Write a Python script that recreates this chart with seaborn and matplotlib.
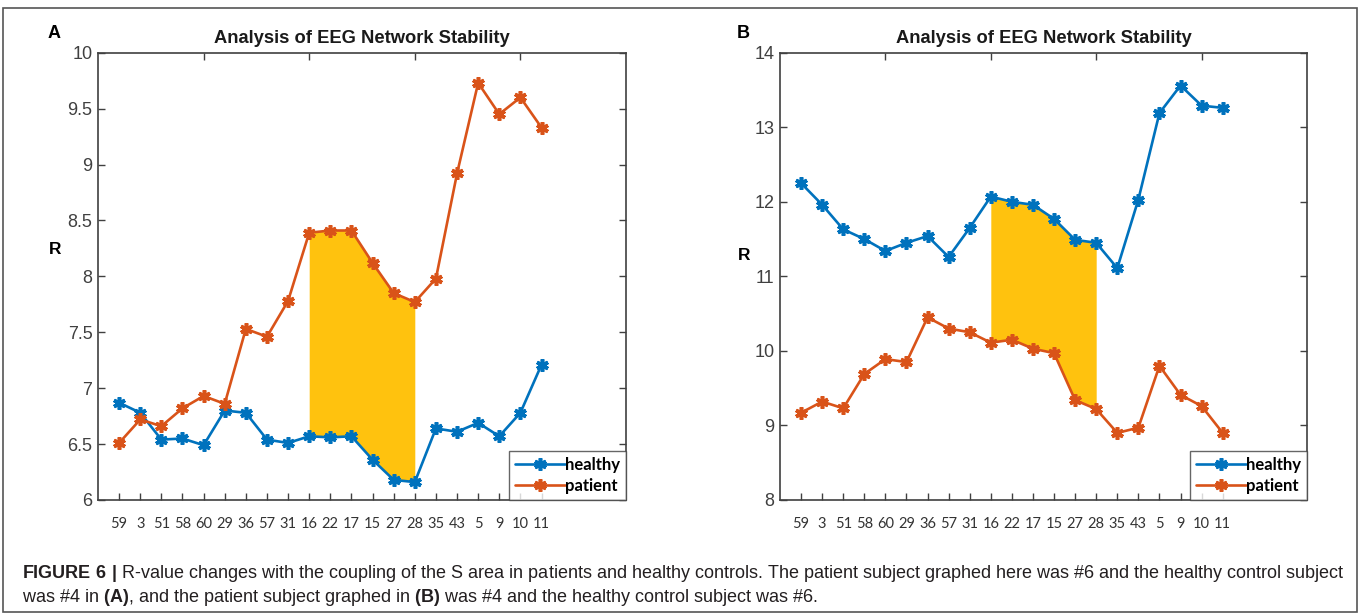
import numpy as np
import pandas as pd
import matplotlib
matplotlib.use("Agg")
import matplotlib.pyplot as plt
from matplotlib.patches import Rectangle
import seaborn as sns

# ---- data -------------------------------------------------------------
subjects = ['59', '3', '51', '58', '60', '29', '36', '57', '31', '16', '22',
            '17', '15', '27', '28', '35', '43', '5', '9', '10', '11']

healthy_a = [6.87, 6.78, 6.54, 6.55, 6.49, 6.80, 6.78, 6.54, 6.51, 6.57, 6.56,
             6.57, 6.36, 6.18, 6.16, 6.64, 6.61, 6.69, 6.57, 6.78, 7.21]
patient_a = [6.51, 6.72, 6.66, 6.82, 6.93, 6.86, 7.53, 7.46, 7.78, 8.39, 8.41,
             8.41, 8.12, 7.85, 7.77, 7.98, 8.92, 9.73, 9.45, 9.60, 9.33]

healthy_b = [12.25, 11.96, 11.63, 11.50, 11.34, 11.45, 11.54, 11.26, 11.65, 12.07, 12.00,
             11.96, 11.77, 11.49, 11.45, 11.11, 12.03, 13.19, 13.56, 13.29, 13.26]
patient_b = [9.17, 9.32, 9.23, 9.69, 9.89, 9.85, 10.45, 10.30, 10.25, 10.11, 10.15,
             10.03, 9.97, 9.34, 9.22, 8.90, 8.97, 9.80, 9.41, 9.26, 8.90]

# shaded window: subjects 16 .. 28
shade_start, shade_end = 9, 14

title = "Analysis of EEG Network Stability"
caption_1 = (r"$\mathbf{FIGURE\ 6\ |}$ R-value changes with the coupling of the S area in "
             "patients and healthy controls. The patient subject graphed here was #6 and "
             "the healthy control subject")
caption_2 = (r"was #4 in $\mathbf{(A)}$, and the patient subject graphed in $\mathbf{(B)}$ "
             "was #4 and the healthy control subject was #6.")

# ---- style ------------------------------------------------------------
sns.set_theme(style="white")
plt.rcParams["font.family"] = ["Liberation Sans", "DejaVu Sans"]
plt.rcParams["mathtext.fontset"] = "custom"
plt.rcParams["mathtext.rm"] = "Liberation Sans"
plt.rcParams["mathtext.bf"] = "Liberation Sans:bold"

BLUE = "#0072BD"
ORANGE = "#D95319"
YELLOW = "#FFC20E"
AXCOL = "#404040"

W, H = 1362, 616
fig = plt.figure(figsize=(W / 100, H / 100), dpi=100)
fig.patch.set_facecolor("white")

x = np.arange(1, len(subjects) + 1)


def px_box(left, top, right, bottom):
    return [left / W, 1 - bottom / H, (right - left) / W, (bottom - top) / H]


def panel(rect, healthy, patient, ylim, ystep, letter, letter_x, r_y):
    ax = fig.add_axes(rect)
    df = pd.DataFrame({"subject": np.concatenate([x, x]),
                       "R": np.concatenate([healthy, patient]),
                       "group": ["healthy"] * len(x) + ["patient"] * len(x)})

    sl = slice(shade_start, shade_end + 1)
    ax.fill_between(x[sl], np.array(healthy)[sl], np.array(patient)[sl],
                    color=YELLOW, linewidth=0, zorder=1)

    for grp, col in (("healthy", BLUE), ("patient", ORANGE)):
        sns.lineplot(data=df[df.group == grp], x="subject", y="R", ax=ax,
                     color=col, linewidth=1.9, marker=(6, 2, 0), markersize=9,
                     markeredgewidth=2.6, markeredgecolor=col, sort=False,
                     errorbar=None, label=grp, zorder=3)

    ax.set_xlim(0, 25)
    ax.set_ylim(*ylim)
    yt = np.arange(ylim[0], ylim[1] + 1e-9, ystep)
    ax.set_yticks(yt)
    ax.set_yticklabels([f"{v:g}" for v in yt])
    ax.set_xticks(x)
    ax.set_xticklabels(subjects, fontfamily="Lato", fontsize=10.5, color="#333333")
    ax.set_xlabel("")
    ax.set_ylabel("")

    ax.tick_params(axis="y", direction="in", length=5, width=1, colors=AXCOL,
                   labelsize=13, left=True, right=True, pad=4)
    ax.tick_params(axis="x", direction="in", length=5, width=1, colors=AXCOL,
                   bottom=True, top=False, pad=12)
    # top ticks every 5 units
    sec = ax.secondary_xaxis("top")
    sec.set_xticks([5, 10, 15, 20])
    sec.set_xticklabels([])
    sec.tick_params(direction="in", length=5, width=1, colors=AXCOL)
    sec.spines["top"].set_visible(False)
    for lab in ax.get_xticklabels():
        lab.set_color("#333333")

    for sp in ax.spines.values():
        sp.set_color(AXCOL)
        sp.set_linewidth(1.2)
        sp.set_visible(True)

    ax.set_title(title, fontsize=13.2, fontweight="bold", color="#1a1a1a", pad=7)

    leg = ax.legend(loc="lower right", bbox_to_anchor=(1.0, 0.0), borderaxespad=0,
                    frameon=True, fancybox=False, handlelength=3.0,
                    handletextpad=0.0, borderpad=0.35, labelspacing=0.3,
                    prop={"family": "Lato", "weight": "bold", "size": 12})
    leg.get_frame().set_edgecolor(AXCOL)
    leg.get_frame().set_linewidth(1.0)
    for t in leg.get_texts():
        t.set_color("black")

    fig.text(letter_x / W, 1 - 33 / H, letter, fontsize=13, fontweight="bold",
             ha="left", va="center", color="black")
    fig.text((letter_x + 1) / W, 1 - r_y / H, "R", fontsize=12.5, fontweight="bold",
             ha="left", va="center", color="black")
    return ax


panel(px_box(98, 52.7, 626, 500), healthy_a, patient_a, (6, 10), 0.5, "A", 48, 249)
panel(px_box(780, 52.7, 1307, 500), healthy_b, patient_b, (8, 14), 1, "B", 737, 255)

# outer frame of the figure
fig.patches.append(Rectangle((3 / W, 4 / H), 1354 / W, 604 / H, transform=fig.transFigure,
                             fill=False, edgecolor="#555555", linewidth=1.2))

# ---- caption ------------------------------------------------------------
CAP_SIZE = 13
fig.text(22 / W, 1 - 573 / H, caption_1, fontsize=CAP_SIZE, ha="left", va="center",
         color="#231f20")
fig.text(22 / W, 1 - 598 / H, caption_2, fontsize=CAP_SIZE, ha="left", va="center",
         color="#231f20")

fig.savefig("out.png", dpi=100)
